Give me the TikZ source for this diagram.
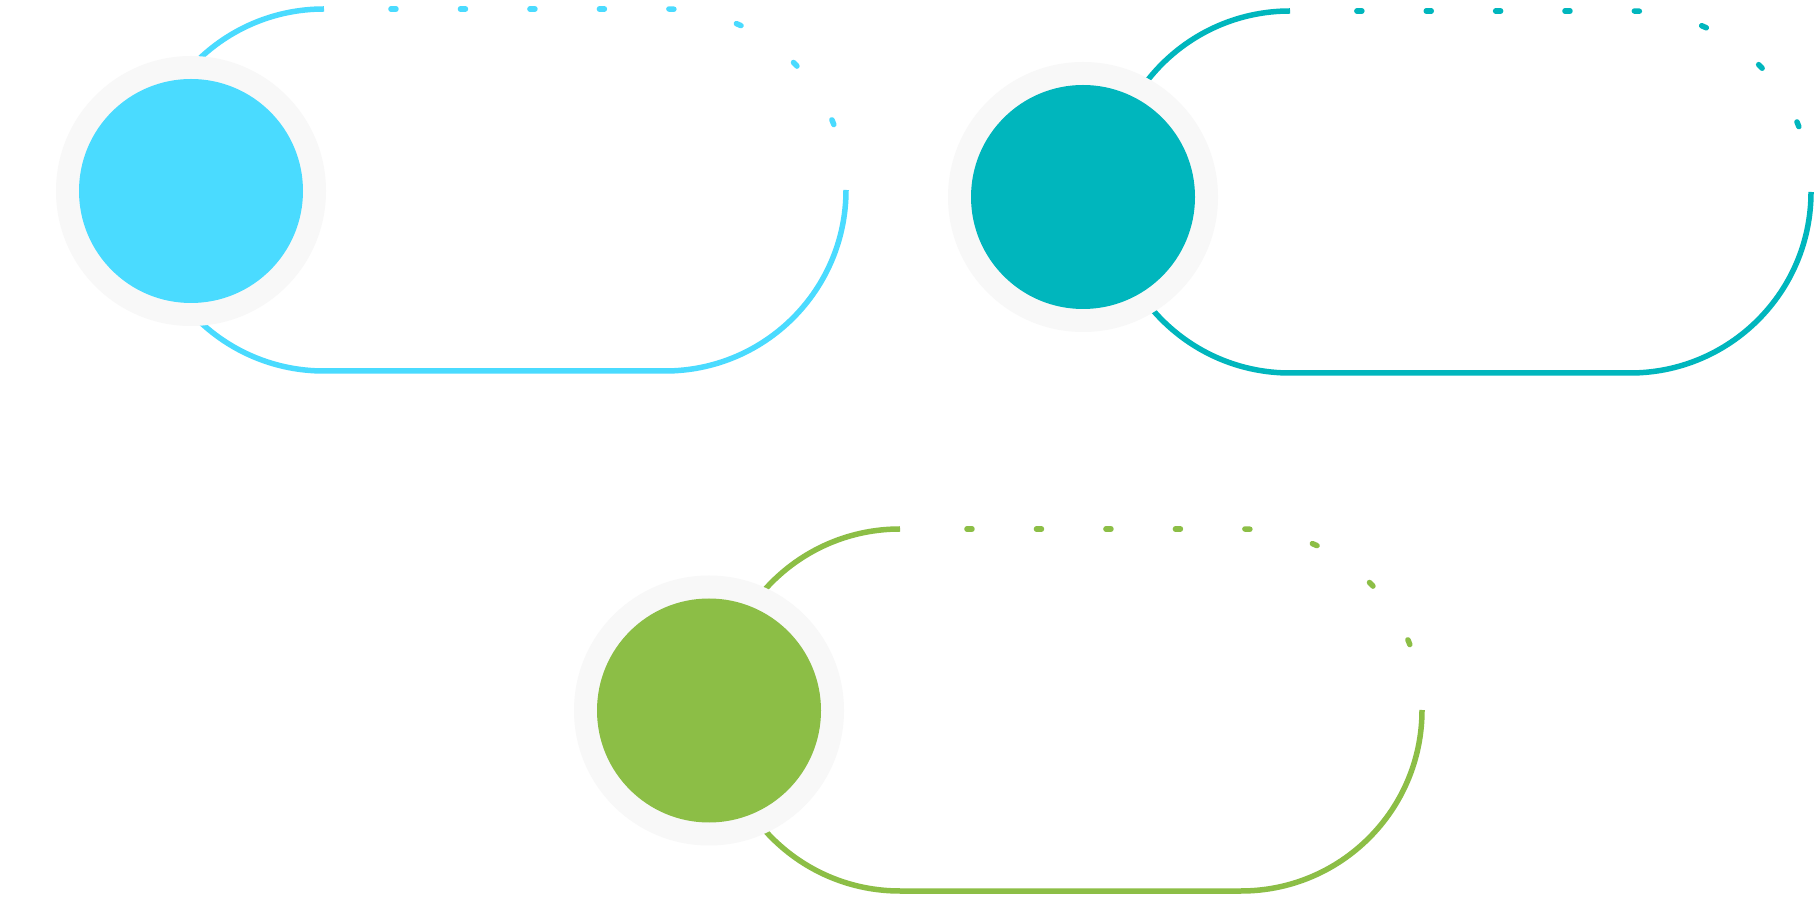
\documentclass[tikz,border=0pt]{standalone}
\usepackage{tikz}
\usetikzlibrary{decorations.markings}
\definecolor{capcyan}{HTML}{4ADBFF}
\definecolor{capteal}{HTML}{00B6BD}
\definecolor{capgreen}{HTML}{8CBE46}
\definecolor{ringgray}{HTML}{F8F8F8}
\tikzset{
  capline/.style={line width=5.5pt},
  ringdisc/.style={fill=ringgray},
}
% #1 colour, #2 left centre x, #3 right centre x, #4 centre y
\newcommand\mycapsule[4]{%
  \pgfmathsetmacro\capL{(#3-#2+pi/2*181)/9}%
  \pgfmathsetmacro\capEnd{8*\capL+1}%
  \draw[capline, draw=#1] (#2,{#4+181}) arc[start angle=90,end angle=270,radius=181]
     -- (#3,{#4-181}) arc[start angle=-90,end angle=0,radius=181];
  \path[decoration={markings,
      mark=between positions \capL pt and \capEnd pt step \capL pt with
      {\draw[capline, draw=#1, line cap=round] (-2.5pt,0) -- (2.5pt,0);}},
      decorate]
     (#2,{#4+181}) -- (#3,{#4+181}) arc[start angle=90,end angle=0,radius=181];
}
\newcommand\mydisc[4]{% #1 name, #2 x, #3 y, #4 colour
  \coordinate (#1) at (#2,#3);
  \fill[ringdisc] (#1) circle (135);
  \fill[#4] (#1) circle (112);
}
\begin{document}
\begin{tikzpicture}[x=1pt,y=1pt]
  \fill[white] (0,0) rectangle (1814,902);
  \useasboundingbox (0,0) rectangle (1814,902);
  % capsules
  \mycapsule{capcyan}{324}{665}{712}
  \mycapsule{capteal}{1290}{1630}{710}
  \mycapsule{capgreen}{900}{1241}{192}
  % discs
  \mydisc{d1}{191}{711}{capcyan}
  \mydisc{d2}{1083}{705}{capteal}
  \mydisc{d3}{709}{191.5}{capgreen}
\end{tikzpicture}
\end{document}
